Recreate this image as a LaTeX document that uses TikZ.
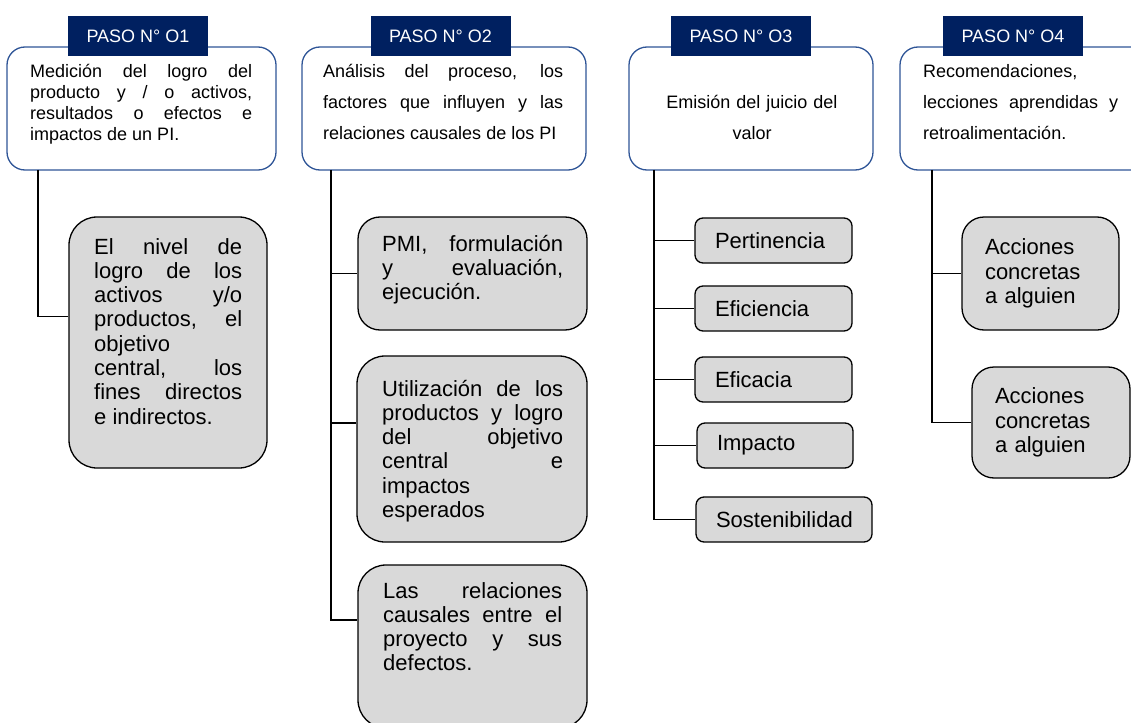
\documentclass[tikz,border=0pt]{standalone}
\usepackage{fontspec}
\setmainfont{Liberation Sans}
\definecolor{navy}{HTML}{002060}
\definecolor{pasoazul}{HTML}{2F5597}
\definecolor{hojagris}{HTML}{D9D9D9}
\newcommand{\fuentecab}{\fontsize{18}{20}\selectfont}
\newcommand{\fuentepaso}{\fontsize{18}{20.7}\selectfont}
\newcommand{\fuentepasoancho}{\fontsize{18}{31}\selectfont}
\newcommand{\fuentehoja}{\fontsize{22}{24.3}\selectfont}
\tolerance=10000 \hbadness=10000 \hyphenpenalty=10000
\tikzset{
  paso/.style={draw=pasoazul, line width=1.3pt, fill=white, rounded corners=18pt, inner sep=0pt},
  cabeza/.style={fill=navy, text=white, font=\fuentecab, minimum width=140pt, minimum height=40pt, inner sep=0pt},
  hoja/.style={draw=black, fill=hojagris, line width=1.3pt, inner sep=0pt},
  corto/.style={hoja, rounded corners=8pt, minimum height=45pt, inner xsep=20pt, align=left, font=\fuentehoja},
  texto/.style={inner sep=0pt, anchor=base west, align=justify},
  rama/.style={draw=black, line width=1.2pt}
}
\begin{document}
\begin{tikzpicture}[x=1pt, y=-1pt]
  \useasboundingbox (0,0) rectangle (1131,722);
  \clip (0,0) rectangle (1131,722);
  % paso 1
  \node[paso, minimum width=269pt, minimum height=123pt] (paso1) at (141.5,108.5) {};
  \node[cabeza] (cab1) at (138,36) {PASO N° O1};
  \node[texto, font=\fuentepaso, text width=222pt] (txt1) at (30,78)
      {Medición del logro del\linebreak producto y / o activos,\linebreak resultados o efectos e\linebreak impactos de un PI.};
      \node[hoja, rounded corners=28pt, minimum width=198pt, minimum height=251pt] (hoja1) at (168,342.5) {};
      \node[texto, font=\fuentehoja, text width=148pt] (txth1) at (94,254)
          {El nivel de\linebreak logro de los\linebreak activos y/o\linebreak productos, el\linebreak objetivo\newline central, los\linebreak fines directos\linebreak e indirectos.};
  \coordinate (tronco1) at (38,170);
  \coordinate (r1) at ([yshift=26pt]hoja1.west);
  \draw[rama] (tronco1) |- (r1);
  % paso 2
  \node[paso, minimum width=284pt, minimum height=123pt] (paso2) at (444,108.5) {};
  \node[cabeza] (cab2) at (440.5,36) {PASO N° O2};
  \node[texto, font=\fuentepasoancho, text width=240pt] (txt2) at (323,78)
      {Análisis del proceso, los\linebreak factores que influyen y las\linebreak relaciones causales de los PI};
      \node[hoja, rounded corners=22pt, minimum width=229pt, minimum height=113pt] (hoja2a) at (472.5,273.5) {};
      \node[texto, font=\fuentehoja, text width=181pt] (txth2a) at (382,251)
          {PMI, formulación\linebreak y evaluación,\linebreak ejecución.};
      \node[hoja, rounded corners=28pt, minimum width=230pt, minimum height=186pt] (hoja2b) at (472,449) {};
      \node[texto, font=\fuentehoja, text width=181pt] (txth2b) at (382,396)
          {Utilización de los\linebreak productos y logro\linebreak del objetivo\linebreak central e\linebreak impactos\newline esperados};
      \node[hoja, rounded corners=28pt, minimum width=229pt, minimum height=163pt] (hoja2c) at (472.5,646.5) {};
      \node[texto, font=\fuentehoja, text width=179pt] (txth2c) at (383,598)
          {Las relaciones\linebreak causales entre el\linebreak proyecto y sus\linebreak defectos.};
  \coordinate (tronco2) at (331,170);
  \coordinate (r2b) at ([yshift=26pt]hoja2b.west);
  \coordinate (r2c) at ([yshift=26.5pt]hoja2c.west);
  \draw[rama] (tronco2) |- (r2c);
  \draw[rama] (tronco2 |- hoja2a.west) -- (hoja2a.west);
  \draw[rama] (tronco2 |- r2b) -- (r2b);
  % paso 3
  \node[paso, minimum width=244pt, minimum height=123pt] (paso3) at (751,108.5) {};
  \node[cabeza] (cab3) at (741,36) {PASO N° O3};
  \node[inner sep=0pt, anchor=base, align=center, font=\fuentepasoancho, text width=220pt] (txt3) at (752,109)
      {Emisión del juicio del\\ valor};
      \node[corto, text width=117pt] (hoja3a) at (773.5,240.5) {Pertinencia};
      \node[corto, text width=117pt] (hoja3b) at (773.5,308.5) {Eficiencia};
      \node[corto, text width=117pt] (hoja3c) at (773.5,379.5) {Eficacia};
      \node[corto, text width=116pt] (hoja3d) at (775,445.5) {Impacto};
      \node[corto, text width=136pt] (hoja3e) at (784,519.5) {Sostenibilidad};
  \coordinate (tronco3) at (654,170);
  \draw[rama] (tronco3) |- (hoja3e.west);
  \foreach \h in {hoja3a,hoja3b,hoja3c,hoja3d}
      \draw[rama] (tronco3 |- \h.west) -- (\h.west);
  % paso 4
  \node[paso, minimum width=260pt, minimum height=123pt] (paso4) at (1030,108.5) {};
  \node[cabeza] (cab4) at (1013,36) {PASO N° O4};
  \node[texto, font=\fuentepasoancho, text width=195pt] (txt4) at (923,78)
      {Recomendaciones,\newline lecciones aprendidas y\linebreak retroalimentación.};
      \node[hoja, rounded corners=22pt, minimum height=113pt, inner xsep=23pt, text width=111pt, align=left, font=\fuentehoja] (hoja4a) at (1040.5,273.5)
          {Acciones\\ concretas\\ a alguien};
      \node[hoja, rounded corners=22pt, minimum height=111pt, inner xsep=23pt, text width=112pt, align=left, font=\fuentehoja] (hoja4b) at (1051,422.5)
          {Acciones\\ concretas\\ a alguien};
  \coordinate (tronco4) at (932,170);
  \draw[rama] (tronco4) |- (hoja4b.west);
  \draw[rama] (tronco4 |- hoja4a.west) -- (hoja4a.west);
\end{tikzpicture}
\end{document}
